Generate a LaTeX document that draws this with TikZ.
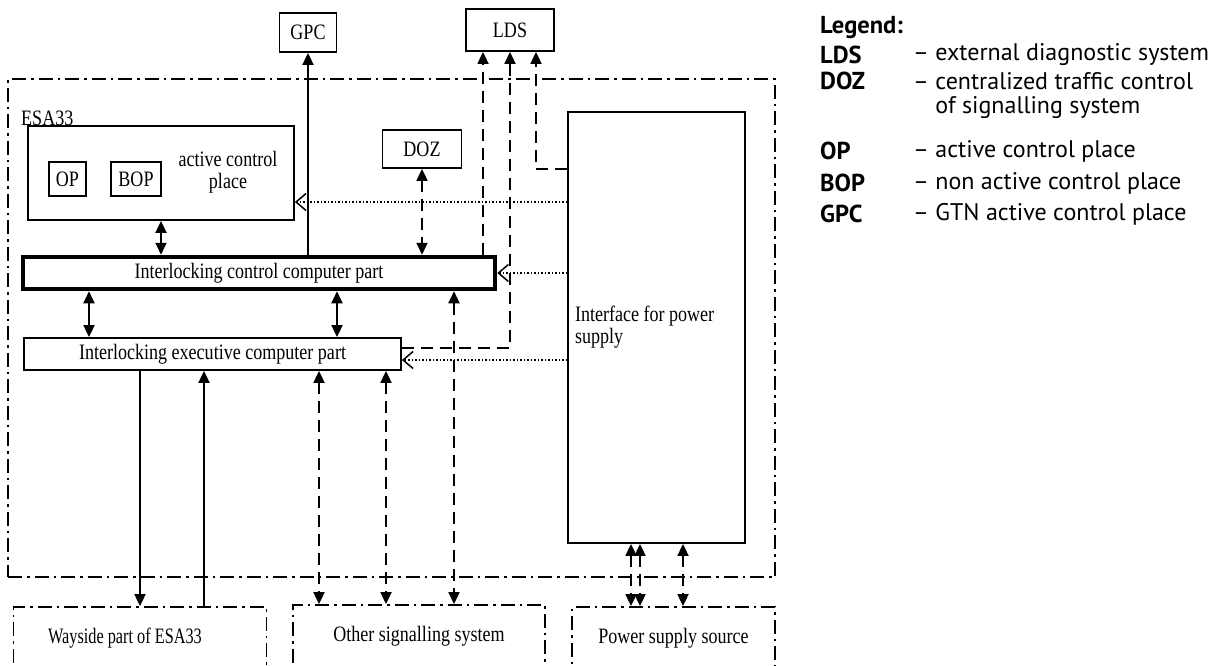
\documentclass[tikz,border=0pt]{standalone}
\usepackage{fontspec}
\setmainfont{Liberation Serif}
\newfontfamily\dgfont[FakeStretch=0.82]{Liberation Serif}
\newfontfamily\dgnarrow[FakeStretch=0.74]{Liberation Serif}
\newfontfamily\lgfont{PT Sans}
\usetikzlibrary{arrows.meta,positioning}

\tikzset{
  dgtext/.style={font=\dgfont\fontsize{22}{22}\selectfont},
  blk/.style={draw, line width=1.8pt, inner sep=0pt, dgtext},
  area/.style={draw, line width=1.8pt, inner sep=0pt, dgtext,
    dash pattern=on 14pt off 5pt on 2.5pt off 5pt},
  ln/.style={line width=1.8pt},
  dsh/.style={line width=1.8pt, dash pattern=on 12pt off 7pt},
  dtd/.style={line width=1.4pt, dash pattern=on 1.5pt off 2pt,
    -{Straight Barb[length=10pt,width=17pt,line width=1.5pt]}},
  arr/.style={-{Triangle[length=12pt,width=11pt]}},
  arrs/.style={{Triangle[length=12pt,width=11pt]}-{Triangle[length=12pt,width=11pt]}},
  lgd/.style={anchor=west, inner sep=0pt, font=\lgfont\fontsize{24}{30}\selectfont},
  lgab/.style={lgd, font=\lgfont\bfseries\fontsize{24.5}{30}\selectfont},
}

\begin{document}
\begin{tikzpicture}[x=1pt,y=-1pt]
  \path[use as bounding box] (0,0) rectangle (1216,665);
  \clip (0,0) rectangle (1216,665);

  % ESA33 area
  \node[area, minimum width=767, minimum height=498] (esa) at (391.5,328) {};
  \node[dgtext, anchor=west, inner sep=0pt] (esalbl) at (21,118) {ESA33};

  % outside units
  \node[blk, minimum width=57, minimum height=39] (gpc) at (308,32.5) {GPC};
  \node[blk, minimum width=88, minimum height=42] (lds) at (510,30) {LDS};

  % control place
  \node[blk, minimum width=266, minimum height=94] (acp) at (161,173) {};
  \node[blk, minimum width=37, minimum height=34] (op) at (67.5,179) {OP};
  \node[blk, minimum width=50, minimum height=34] (bop) at (136,179) {BOP};
  \node[dgtext, align=center, inner sep=0pt] (acptxt) at (228,172.5) {active control\\place};
  \node[blk, minimum width=79, minimum height=38] (doz) at (422,149) {DOZ};

  % computer parts
  \node[blk, line width=4.5pt, minimum width=472, minimum height=32] (icc) at (259,273) {Interlocking control computer part};
  \node[blk, minimum width=377, minimum height=32] (iec) at (212.5,354) {Interlocking executive computer part};
  \node[blk, minimum width=177, minimum height=431, text width=163, align=flush left] (pwr) at (656.5,327.5) {Interface for power\\supply};

  % surroundings
  \node[area, minimum width=253, minimum height=62] (ways) at (140,638) {};
  \node[font=\dgnarrow\fontsize{22}{22}\selectfont, inner sep=0pt] (waystxt) at (125,638) {Wayside part of ESA33};
  \node[area, minimum width=252, minimum height=62] (oss) at (419,636) {Other signalling system};
  \node[area, minimum width=203, minimum height=62] (pss) at (673.5,638) {Power supply source};

  % to GPC and LDS
  \draw[ln,arr] (gpc.south |- icc.north) -- (gpc.south);
  \coordinate (ldsa) at ([xshift=-27pt]lds.south);
  \coordinate (ldsc) at ([xshift=26pt]lds.south);
  \coordinate (iecout) at ([yshift=6pt]iec.east);
  \draw[dsh,arr] (ldsa |- icc.north) -- (ldsa);
  \draw[dsh,arr] (iecout) -| (lds.south);
  \draw[dsh,arr] (pwr.west |- doz.south) -| (ldsc);

  % inner links
  \draw[dsh,arrs] (doz.south) -- (doz.south |- icc.north);
  \draw[ln,arrs] (acp.south) -- (acp.south |- icc.north);
  \coordinate (ci1) at ([xshift=-170pt]icc.south);
  \coordinate (ci2) at ([xshift=78pt]icc.south);
  \draw[ln,arrs] (ci1) -- (ci1 |- iec.north);
  \draw[ln,arrs] (ci2) -- (ci2 |- iec.north);

  % power feed
  \coordinate (acpin) at ([yshift=-29pt]acp.east);
  \coordinate (iecin) at ([yshift=-6pt]iec.east);
  \draw[dtd] (pwr.west |- acpin) -- (acpin);
  \draw[dtd] (pwr.west |- icc.east) -- (icc.east);
  \draw[dtd] (pwr.west |- iecin) -- (iecin);

  % outside links
  \draw[ln,arr] (ways.north |- iec.south) -- (ways.north);
  \coordinate (wsup) at ([xshift=64pt]ways.north);
  \draw[ln,arr] (wsup) -- (wsup |- iec.south);
  \coordinate (os1) at ([xshift=-100pt]oss.north);
  \coordinate (os2) at ([xshift=-33pt]oss.north);
  \coordinate (os3) at ([xshift=35pt]oss.north);
  \draw[dsh,arrs] (os1 |- iec.south) -- (os1);
  \draw[dsh,arrs] (os2 |- iec.south) -- (os2);
  \draw[dsh,arrs] (os3 |- icc.south) -- (os3);
  \coordinate (ps1) at ([xshift=-42.5pt]pss.north);
  \coordinate (ps2) at ([xshift=-33.5pt]pss.north);
  \coordinate (ps3) at ([xshift=9.5pt]pss.north);
  \draw[dsh,arrs] (ps1 |- pwr.south) -- (ps1);
  \draw[dsh,arrs] (ps2 |- pwr.south) -- (ps2);
  \draw[dsh,arrs] (ps3 |- pwr.south) -- (ps3);

  % legend
  \node[lgab] (lgtitle) at (820,28) {Legend:};
  \foreach \ab/\tx/\yy in {LDS/external diagnostic system/55,
      DOZ/centralized traffic control/81, OP/active control place/151,
      BOP/non active control place/183, GPC/GTN active control place/214} {
    \node[lgab] (lg\ab) at (820,\yy) {\ab};
    \node[lgd] (lgt\ab) at (913,\yy) {– \tx};
  }
  \node[lgd] (lgtDOZb) at (913,108) {\phantom{– }of signalling system};
\end{tikzpicture}
\end{document}
